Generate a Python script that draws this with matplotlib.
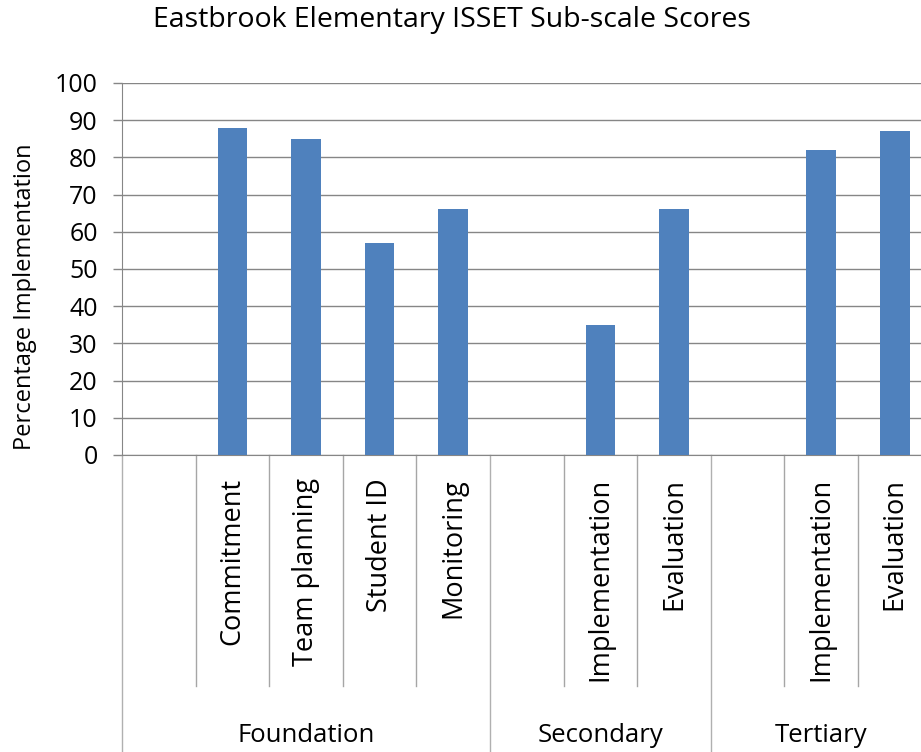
import matplotlib
matplotlib.use('Agg')
import matplotlib.pyplot as plt
import matplotlib.transforms as mtransforms
import numpy as np

plt.rcParams['font.family'] = ['Open Sans', 'DejaVu Sans']

groups = ['Foundation', 'Secondary', 'Tertiary']
subscales = [['Commitment', 'Team planning', 'Student ID', 'Monitoring'],
             ['Implementation', 'Evaluation'],
             ['Implementation', 'Evaluation']]
scores = [[88, 85, 57, 66],
          [35, 66],
          [82, 87]]

# each group starts with an empty slot, like the excel sheet
labels = []
values = []
group_edges = []
for name, subs, vals in zip(groups, subscales, scores):
    group_edges.append(len(labels))
    labels.append('')
    values.append(np.nan)
    labels.extend(subs)
    values.extend(vals)
group_edges.append(len(labels))
x = np.arange(len(labels))

fig = plt.figure(figsize=(9.21, 7.52), dpi=100)
ax = fig.add_axes([122 / 921, 297 / 752, (73.6 * 11) / 921, 372 / 752])

ax.bar(x, values, width=0.4, color='#4F81BD', zorder=3)
ax.set_xlim(-0.5, len(labels) - 0.5)
ax.set_ylim(0, 100)
ax.set_yticks(range(0, 101, 10))
ax.yaxis.grid(True, color='#868686', linewidth=1)
ax.set_axisbelow(True)
ax.set_xticks([])
ax.tick_params(axis='y', direction='out', length=6.5, width=1, color='#868686',
               labelsize=18, pad=11)
for s in ['top', 'right']:
    ax.spines[s].set_visible(False)
ax.spines['left'].set_color('#868686')
ax.spines['bottom'].set_color('#868686')

trans = mtransforms.blended_transform_factory(ax.transData, ax.transAxes)

# separators under the axis
for i in range(len(labels) + 1):
    if i in group_edges:
        ax.plot([i - 0.5, i - 0.5], [0, -0.82], transform=trans, color='#B0B0B0',
                linewidth=1, clip_on=False)
    else:
        ax.plot([i - 0.5, i - 0.5], [0, -0.621], transform=trans, color='#A6A6A6',
                linewidth=1, clip_on=False)

for xi, lab in zip(x, labels):
    if lab:
        ax.text(xi, -0.062, lab, transform=trans, rotation=90, ha='center', va='top',
                fontsize=19.5)

for g, name in enumerate(groups):
    mid = (group_edges[g] + group_edges[g + 1]) / 2 - 0.5
    ax.text(mid, -0.753, name, transform=trans, ha='center', va='center', fontsize=18.5)

fig.text(452 / 921, 1 - 20 / 752, 'Eastbrook Elementary ISSET Sub-scale Scores',
         ha='center', va='center', fontsize=20.5)
fig.text(25 / 921, 1 - 297 / 752, 'Percentage Implementation', rotation=90,
         ha='center', va='center', fontsize=17)

fig.savefig('out.png', dpi=100)
